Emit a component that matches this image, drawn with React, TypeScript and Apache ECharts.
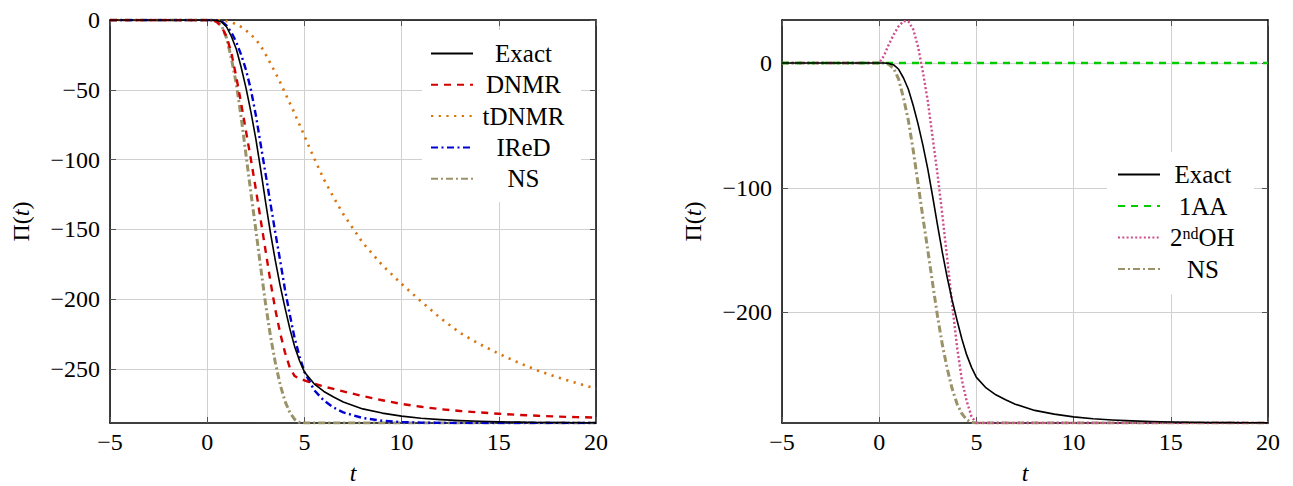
import React, { useEffect, useRef } from "react";
import * as echarts from "echarts";

// time grid shared by all curves
const tGrid = [-5, 0, 0.25, 0.5, 0.75, 1, 1.25, 1.5, 1.75, 2, 2.25, 2.5, 2.75, 3, 3.25, 3.5, 3.75, 4, 4.25, 4.5, 4.75, 5, 5.5, 6, 6.5, 7, 8, 9, 10, 11, 12, 13, 14, 15, 16, 17, 18, 19, 20];

const exact = [0, 0, 0, -0.3, -1.5, -5, -12, -21, -34, -49, -66, -85, -107, -130, -152, -172, -190, -206, -221, -234, -244, -252, -260.5, -266, -270, -273.5, -278.5, -281.5, -283.7, -285.2, -286.2, -286.9, -287.4, -287.8, -288, -288.2, -288.3, -288.4, -288.5];
const dnmr = [0, 0, 0, -1.5, -5, -12, -24, -41, -60, -80, -100, -121, -143, -165, -187, -207, -224, -238, -249, -255, -257, -258, -260.5, -262.5, -264.2, -266, -269.3, -272.3, -275, -277, -278.7, -280, -281, -282, -282.8, -283.4, -284, -284.4, -284.7];
const tdnmr = [0, 0, 0, 0, -0.3, -0.8, -1.7, -3, -5, -7.5, -10.5, -14, -18.5, -24.5, -31, -37.5, -44.5, -52, -59.5, -67, -75, -83, -99, -114, -127, -139, -159.5, -175.5, -189, -201.5, -213.5, -224, -232, -239, -245.3, -251, -255.8, -260, -264];
const ired = [0, 0, 0, 0, -1, -4, -9, -16, -25, -36, -50, -68, -89, -110, -131, -152, -172, -193, -211, -228, -241, -252, -265, -272.5, -277.5, -281, -285, -287, -288, -288.3, -288.5, -288.6, -288.6, -288.6, -288.6, -288.6, -288.6, -288.6, -288.6];
const ns = [0, 0, 0, -1, -4.5, -13, -28, -46, -70, -97, -124, -150, -177, -203, -226, -245, -261, -273, -281, -286, -288.2, -288.6, -288.6, -288.6, -288.6, -288.6, -288.6, -288.6, -288.6, -288.6, -288.6, -288.6, -288.6, -288.6, -288.6, -288.6, -288.6, -288.6, -288.6];
const oneAA = [0, 0, 0, 0, 0, 0, 0, 0, 0, 0, 0, 0, 0, 0, 0, 0, 0, 0, 0, 0, 0, 0, 0, 0, 0, 0, 0, 0, 0, 0, 0, 0, 0, 0, 0, 0, 0, 0, 0];
const secondOH = [0, 0, 6, 15, 23, 29.5, 33.6, 33.4, 27, 13, -7.5, -30.5, -60, -89, -122, -157, -193, -227, -254, -271, -283.5, -288.6, -288.6, -288.6, -288.6, -288.6, -288.6, -288.6, -288.6, -288.6, -288.6, -288.6, -288.6, -288.6, -288.6, -288.6, -288.6, -288.6, -288.6];

const xTicks = [-5, 0, 5, 10, 15, 20];
const yTicksLeft = [-250, -200, -150, -100, -50, 0];
const yTicksRight = [-200, -100, 0];
const yMin = -288.6;
const yMaxLeft = 0;
const yMaxRight = 34.5;

const legendLeft = ["Exact", "DNMR", "tDNMR", "IReD", "NS"];
const legendRight = ["Exact", "1AA", "2ndOH", "NS"];

const FONT = "Liberation Serif";
const FS = 24;
const LFS = 25;

const pts = (vals: number[]) => tGrid.map((t, i) => [t, vals[i]]);
const fmt = (v: number) => String(v).replace("-", "\u2212");

export default function App() {
  const ref = useRef<HTMLDivElement>(null);
  useEffect(() => {
    if (!ref.current) return;
    const chart = echarts.init(ref.current, null, { renderer: "svg", width: 1293, height: 486 });

    const xAxisBase = (gridIndex: number) => ({
      type: "value",
      gridIndex,
      min: xTicks[0],
      max: xTicks[xTicks.length - 1],
      interval: 5,
      axisLine: { show: true, onZero: false, lineStyle: { color: "#000", width: 1.5 } },
      axisTick: { show: true, inside: true, length: 6, lineStyle: { color: "#555" } },
      axisLabel: { show: true, color: "#000", fontFamily: FONT, fontSize: FS, margin: 7, formatter: fmt },
      splitLine: { show: true, lineStyle: { color: "#d0d0d0", width: 1 } },
      name: "t",
      nameLocation: "middle",
      nameGap: 40,
      nameTextStyle: { fontFamily: FONT, fontSize: FS, fontStyle: "italic", color: "#000", lineHeight: 20 },
    });
    const xAxisTop = (gridIndex: number) => ({
      type: "value",
      gridIndex,
      position: "top",
      min: xTicks[0],
      max: xTicks[xTicks.length - 1],
      interval: 5,
      axisLine: { show: true, onZero: false, lineStyle: { color: "#000", width: 1.5 } },
      axisTick: { show: true, inside: true, length: 6, lineStyle: { color: "#555" } },
      axisLabel: { show: false },
      splitLine: { show: false },
    });
    const yAxisBase = (gridIndex: number, max: number, ticks: number[]) => ({
      type: "value",
      gridIndex,
      min: yMin,
      max,
      axisLine: { show: true, onZero: false, lineStyle: { color: "#000", width: 1.5 } },
      axisTick: { show: true, inside: true, length: 6, lineStyle: { color: "#555" }, customValues: ticks },
      axisLabel: { show: true, color: "#000", fontFamily: FONT, fontSize: FS, margin: 10, formatter: fmt, customValues: ticks },
      splitLine: { show: true, lineStyle: { color: "#d0d0d0", width: 1 } },
      name: "{r|\u03a0(}{i|t}{r|)}",
      nameLocation: "middle",
      nameRotate: 90,
      nameGap: 77,
      nameTextStyle: {
        rich: {
          r: { fontFamily: FONT, fontSize: FS, color: "#000" },
          i: { fontFamily: FONT, fontSize: FS, fontStyle: "italic", color: "#000" },
        },
      },
    });
    const yAxisRightSide = (gridIndex: number, max: number, ticks: number[]) => ({
      type: "value",
      gridIndex,
      position: "right",
      min: yMin,
      max,
      axisLine: { show: true, onZero: false, lineStyle: { color: "#000", width: 1.5 } },
      axisTick: { show: true, inside: true, length: 6, lineStyle: { color: "#555" }, customValues: ticks },
      axisLabel: { show: false, customValues: ticks },
      splitLine: { show: false },
    });

    const mk = (name: string, data: number[], color: string, width: number, type: any, xi: number, yi: number, z = 2) => ({
      type: "line",
      name,
      data: pts(data),
      xAxisIndex: xi,
      yAxisIndex: yi,
      showSymbol: false,
      symbol: "none",
      smooth: false,
      z,
      lineStyle: { color, width, type, cap: "butt", join: "round" },
      itemStyle: { color },
    });

    const C = {
      exact: "#000000",
      dnmr: "#d20000",
      tdnmr: "#d9730d",
      ired: "#0000d2",
      ns: "#9a9268",
      aa: "#00cc00",
      oh: "#cc4c8c",
    };

    const base = { fontFamily: FONT, fontSize: LFS, color: "#000", lineHeight: 24 };
    const richLeft = {
      c: { ...base, width: 91, align: "center" },
    };
    const richRight = {
      c: { ...base, width: 76, align: "center" },
      c2: { ...base, padding: [0, 0, 0, 5] },
      sup: { fontFamily: FONT, fontSize: 16, color: "#000", lineHeight: 24, padding: [0, 0, 9, 0] },
      c3: { ...base },
    };
    const legendCommon = {
      orient: "vertical",
      itemWidth: 42,
      itemHeight: 14,
      backgroundColor: "#ffffff",
      selectedMode: false,
      itemStyle: { color: "rgba(0,0,0,0)", borderColor: "rgba(0,0,0,0)", borderWidth: 0, opacity: 0 },
    };

    const option = {
      animation: false,
      backgroundColor: "#ffffff",
      textStyle: { fontFamily: FONT },
      grid: [
        { left: 110, top: 20, width: 486, height: 403, show: false, outerBoundsMode: "none", containLabel: false },
        { left: 782, top: 20, width: 486, height: 403, show: false, outerBoundsMode: "none", containLabel: false },
      ],
      xAxis: [xAxisBase(0), xAxisTop(0), xAxisBase(1), xAxisTop(1)],
      yAxis: [
        yAxisBase(0, yMaxLeft, yTicksLeft),
        yAxisRightSide(0, yMaxLeft, yTicksLeft),
        yAxisBase(1, yMaxRight, yTicksRight),
        yAxisRightSide(1, yMaxRight, yTicksRight),
      ],
      legend: [
        {
          ...legendCommon,
          data: legendLeft,
          left: 422,
          top: 30,
          padding: [11, 12, 11, 8],
          itemGap: 6.3,
          formatter: (n: string) => `{c|${n}}`,
          textStyle: { fontFamily: FONT, fontSize: LFS, rich: richLeft },
        },
        {
          ...legendCommon,
          data: legendRight,
          left: 1107,
          top: 152,
          padding: [10, 13, 13, 10],
          itemGap: 6.5,
          formatter: (n: string) => (n === "2ndOH" ? `{c2|2}{sup|nd}{c3|OH}` : `{c|${n}}`),
          textStyle: { fontFamily: FONT, fontSize: LFS, rich: richRight },
        },
      ],
      series: [
        mk("Exact", exact, C.exact, 1.6, "solid", 0, 0, 6),
        mk("DNMR", dnmr, C.dnmr, 2.4, [7, 6], 0, 0, 5),
        mk("tDNMR", tdnmr, C.tdnmr, 2.6, [2.2, 5.5], 0, 0, 4),
        mk("IReD", ired, C.ired, 2.4, [7, 3.5, 2, 3.5], 0, 0, 3),
        mk("NS", ns, C.ns, 3, [7, 3, 2, 3], 0, 0, 2),
        mk("Exact", exact, C.exact, 1.6, "solid", 2, 2, 6),
        mk("1AA", oneAA, C.aa, 2.4, [7, 6], 2, 2, 5),
        mk("2ndOH", secondOH, C.oh, 2.4, [2, 2.3], 2, 2, 4),
        mk("NS", ns, C.ns, 3, [7, 3, 2, 3], 2, 2, 3),
      ],
    };
    chart.setOption(option as any);
    return () => chart.dispose();
  }, []);
  return <div ref={ref} style={{ position: "absolute", left: 0, top: 0, width: 1293, height: 486 }} />;
}
